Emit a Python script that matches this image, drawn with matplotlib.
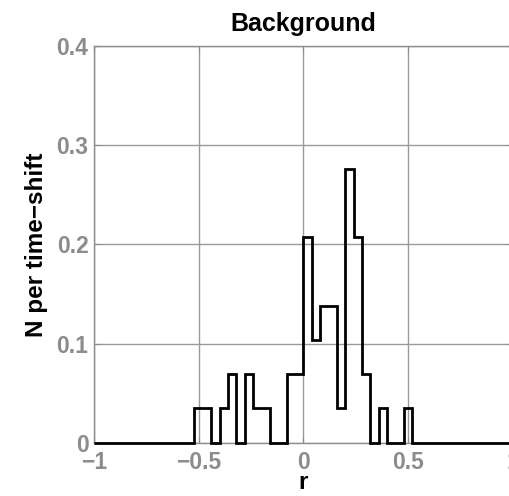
import numpy as np
import matplotlib.pyplot as plt

plt.rcParams['font.family'] = ['Liberation Sans', 'DejaVu Sans']
plt.rcParams['font.weight'] = 'bold'

# histogram of r, 50 bins between -1 and 1
bin_edges = np.linspace(-1, 1, 51)
counts = [0] * 12 + [1, 1, 0, 1, 2, 0, 2, 1, 1, 0, 0, 2, 2,
                     6, 3, 4, 4, 1, 8, 6, 2, 0, 1, 0, 0, 1] + [0] * 12
n_shifts = 29

xticks = [-1, -0.5, 0, 0.5, 1]
xticklabels = ['\u22121', '\u22120.5', '0', '0.5', '1']
yticks = [0, 0.1, 0.2, 0.3, 0.4]
yticklabels = ['0', '0.1', '0.2', '0.3', '0.4']

grey = '#8c8c8c'

fig = plt.figure(figsize=(5.1, 4.96), dpi=100)
ax = fig.add_axes([0.1843, 0.1075, 0.821, 0.7998])

vals = np.array(counts) / n_shifts
ax.stairs(vals, bin_edges, color='black', linewidth=2.0, clip_on=False, zorder=3)

ax.set_xlim(-1, 1)
ax.set_ylim(0, 0.4)
ax.set_xticks(xticks)
ax.set_xticklabels(xticklabels)
ax.set_yticks(yticks)
ax.set_yticklabels(yticklabels)
ax.grid(True, color='#9a9a9a', linewidth=1.0)
ax.set_axisbelow(True)
for s in ax.spines.values():
    s.set_color(grey)
    s.set_linewidth(1.0)
ax.tick_params(direction='in', length=4, colors=grey, labelsize=16.5,
               top=True, right=True)
ax.tick_params(axis='y', pad=4)
ax.tick_params(axis='x', pad=6)
for lab in ax.get_xticklabels() + ax.get_yticklabels():
    lab.set_fontweight('bold')

ax.set_xlabel('r', fontsize=17.5, fontweight='bold', labelpad=-2)
ax.set_ylabel('N per time\u2212shift', fontsize=17.5, fontweight='bold', labelpad=6)
ax.set_title('Background', fontsize=18, fontweight='bold', pad=11)

fig.savefig('out.png', dpi=100)
